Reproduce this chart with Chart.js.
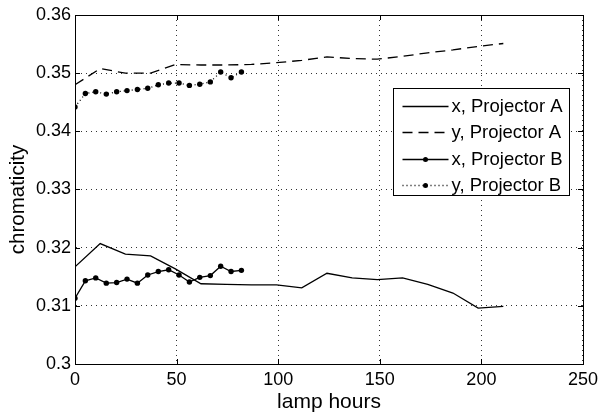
<!DOCTYPE html>
<html>
<head>
<meta charset="utf-8">
<script src="https://cdn.jsdelivr.net/npm/chart.js@4.4.1/dist/chart.umd.min.js"></script>
<style>
  html, body { margin: 0; padding: 0; background: #fff; }
  #wrap { width: 603px; height: 416px; }
</style>
</head>
<body>
<div id="wrap"><canvas id="chromaChart" width="603" height="416"></canvas></div>
<script>
// Projector A: sampled about every 12.4 lamp hours
const hoursA = [0, 12.4, 24.8, 37.2, 49.6, 62, 74.4, 86.8, 99.2, 111.6, 124, 136.4, 148.8, 161.2, 173.6, 186, 198.4, 210.8];
const xProjA = [0.3167, 0.3207, 0.3189, 0.3186, 0.3163, 0.3138, 0.3137, 0.3136, 0.3136, 0.3131, 0.3156, 0.3148, 0.3145, 0.3148, 0.3137, 0.3122, 0.3096, 0.3099];
const yProjA = [0.3480, 0.3508, 0.3500, 0.3500, 0.3515, 0.3514, 0.3514, 0.3515, 0.3518, 0.3522, 0.3528, 0.3525, 0.3524, 0.3529, 0.3535, 0.3540, 0.3546, 0.3551];

// Projector B: sampled about every 5.1 lamp hours
const hoursB = [0, 5.1, 10.2, 15.4, 20.5, 25.6, 30.7, 35.8, 41, 46.1, 51.2, 56.3, 61.4, 66.6, 71.7, 76.8, 81.9];
const xProjB = [0.3113, 0.3143, 0.3148, 0.3139, 0.3140, 0.3146, 0.3139, 0.3153, 0.3159, 0.3162, 0.3153, 0.3141, 0.3149, 0.3152, 0.3168, 0.3159, 0.3161];
const yProjB = [0.3442, 0.3465, 0.3468, 0.3464, 0.3468, 0.3470, 0.3472, 0.3474, 0.3480, 0.3483, 0.3483, 0.3479, 0.3481, 0.3485, 0.3502, 0.3492, 0.3502];

const seriesLabels = ['x, Projector A', 'y, Projector A', 'x, Projector B', 'y, Projector B'];
const xTicks = [0, 50, 100, 150, 200, 250];
const yTicks = [0.30, 0.31, 0.32, 0.33, 0.34, 0.35, 0.36];
const yTitle = 'chromaticity';

const FONT = '"Liberation Sans", Arial, Helvetica, sans-serif';

function toPoints(xs, ys) {
    return xs.map((h, i) => ({ x: h, y: ys[i] }));
}

// Estilos de linea para cada serie (como en MATLAB)
const estilos = [
    { dash: [], marker: false },
    { dash: [10, 6], marker: false },
    { dash: [], marker: true },
    { dash: [1, 3], marker: true }
];

// Caja, marcas hacia dentro, titulo del eje y y leyenda
const matlabFrame = {
    id: 'matlabFrame',
    afterDraw(chart) {
        const ctx = chart.ctx;
        const area = chart.chartArea;
        const xs = chart.scales.x;
        const ys = chart.scales.y;

        ctx.save();
        ctx.strokeStyle = '#000';
        ctx.lineWidth = 1;
        ctx.setLineDash([]);

        // marcas
        const tl = 5;
        ctx.beginPath();
        xTicks.forEach(v => {
            const px = Math.round(xs.getPixelForValue(v)) + 0.5;
            ctx.moveTo(px, area.bottom); ctx.lineTo(px, area.bottom - tl);
            ctx.moveTo(px, area.top); ctx.lineTo(px, area.top + tl);
        });
        yTicks.forEach(v => {
            const py = Math.round(ys.getPixelForValue(v)) + 0.5;
            ctx.moveTo(area.left, py); ctx.lineTo(area.left + tl, py);
            ctx.moveTo(area.right, py); ctx.lineTo(area.right - tl, py);
        });
        ctx.stroke();

        // caja
        ctx.strokeRect(Math.round(area.left) + 0.5, Math.round(area.top) + 0.5,
            Math.round(area.right - area.left), Math.round(area.bottom - area.top));

        // titulo eje y
        ctx.save();
        ctx.translate(18.5, (area.top + area.bottom) / 2 + 10);
        ctx.rotate(-Math.PI / 2);
        ctx.font = '20.5px ' + FONT;
        ctx.fillStyle = '#000';
        ctx.textAlign = 'center';
        ctx.textBaseline = 'middle';
        ctx.fillText(yTitle, 0, 0);
        ctx.restore();

        // leyenda
        const lx = 393.5, ly = 88.5, lw = 176, lh = 107;
        ctx.fillStyle = '#fff';
        ctx.fillRect(lx, ly, lw, lh);
        ctx.strokeRect(lx, ly, lw, lh);

        ctx.font = '18.5px ' + FONT;
        ctx.textBaseline = 'middle';
        ctx.textAlign = 'left';
        seriesLabels.forEach((txt, i) => {
            const cy = ly + 17 + i * 26.5;
            const est = estilos[i];
            ctx.beginPath();
            ctx.setLineDash(est.dash);
            ctx.lineWidth = 1.3;
            ctx.moveTo(lx + 9, Math.round(cy) + 0.5);
            ctx.lineTo(lx + 55, Math.round(cy) + 0.5);
            ctx.stroke();
            ctx.setLineDash([]);
            if (est.marker) {
                ctx.beginPath();
                ctx.arc(lx + 32, Math.round(cy) + 0.5, 2.5, 0, Math.PI * 2);
                ctx.fillStyle = '#000';
                ctx.fill();
            }
            ctx.fillStyle = '#000';
            ctx.fillText(txt, lx + 58, cy + 1);
        });
        ctx.restore();
    }
};

function crearGrafico() {
    const canvas = document.getElementById('chromaChart');
    const ctx = canvas.getContext('2d');

    const datos = [
        toPoints(hoursA, xProjA),
        toPoints(hoursA, yProjA),
        toPoints(hoursB, xProjB),
        toPoints(hoursB, yProjB)
    ];

    const datasets = datos.map((d, i) => ({
        label: seriesLabels[i],
        data: d,
        borderColor: '#000',
        backgroundColor: '#000',
        borderWidth: 1.3,
        borderDash: estilos[i].dash,
        pointRadius: estilos[i].marker ? 2.7 : 0,
        pointBorderWidth: 0,
        pointBackgroundColor: '#000',
        tension: 0,
        fill: false
    }));

    new Chart(ctx, {
        type: 'line',
        data: { datasets: datasets },
        options: {
            responsive: false,
            animation: false,
            devicePixelRatio: 1,
            layout: { padding: { top: 15, right: 15, left: 0, bottom: 0 } },
            plugins: {
                legend: { display: false },
                tooltip: { enabled: false }
            },
            scales: {
                x: {
                    type: 'linear',
                    min: 0,
                    max: 250,
                    afterBuildTicks: s => { s.ticks = xTicks.map(v => ({ value: v })); },
                    afterFit: s => { s.height = 52; },
                    grid: { color: '#333', lineWidth: 1, drawTicks: false },
                    border: { display: true, color: '#000', width: 1, dash: [1, 4] },
                    ticks: { color: '#000', padding: 5, font: { family: FONT, size: 18 } },
                    title: {
                        display: true,
                        text: 'lamp hours',
                        color: '#000',
                        font: { family: FONT, size: 21 },
                        padding: { top: 0, bottom: 1 }
                    }
                },
                y: {
                    type: 'linear',
                    min: 0.30,
                    max: 0.36,
                    afterBuildTicks: s => { s.ticks = yTicks.map(v => ({ value: v })); },
                    afterFit: s => { s.width = 75; },
                    grid: { color: '#333', lineWidth: 1, drawTicks: false },
                    border: { display: true, color: '#000', width: 1, dash: [1, 4] },
                    ticks: {
                        color: '#000',
                        padding: 4,
                        font: { family: FONT, size: 18 },
                        callback: v => Number(v.toFixed(2)).toString()
                    },
                    title: { display: false }
                }
            }
        },
        plugins: [matlabFrame]
    });
}

document.addEventListener('DOMContentLoaded', crearGrafico);
</script>
</body>
</html>
